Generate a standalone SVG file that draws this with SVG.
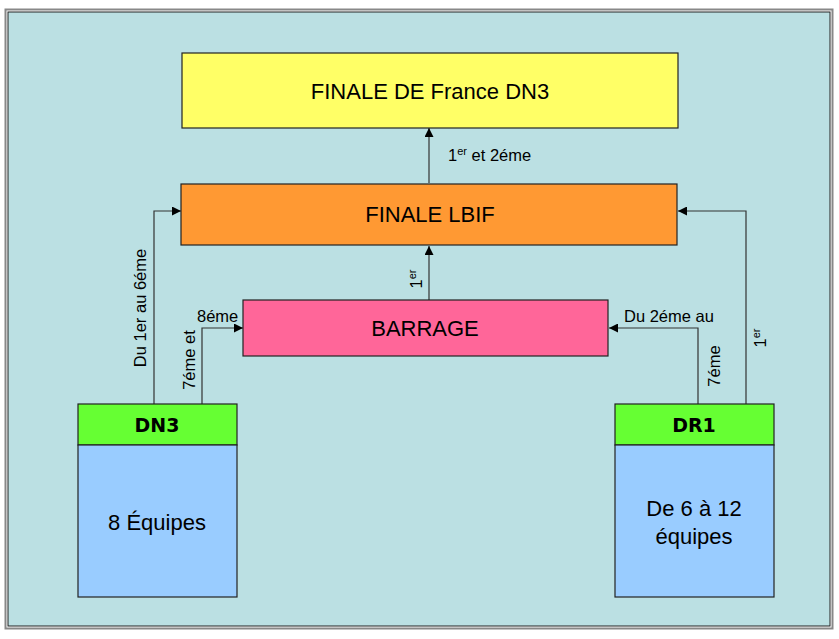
<svg xmlns="http://www.w3.org/2000/svg" width="839" height="639" viewBox="0 0 839 639">
<defs>
<style>
.box{stroke:#222;stroke-width:1.2}
.t{font-family:"Liberation Sans",Arial,sans-serif;font-size:22px;fill:#000;text-anchor:middle}
.h{font-family:"Comic Sans MS","DejaVu Sans",sans-serif;font-weight:bold;font-size:19px;fill:#000;text-anchor:middle}
.l{font-family:"Liberation Sans",Arial,sans-serif;font-size:16.5px;fill:#000}
.c{fill:none;stroke:#333;stroke-width:1.2}
</style>
<marker id="ah" viewBox="0 0 10 10" refX="10" refY="5" markerWidth="9" markerHeight="9" markerUnits="userSpaceOnUse" orient="auto">
<path d="M0,0 L10,5 L0,10 z" fill="#000"/>
</marker>
</defs>
<rect x="0" y="0" width="839" height="639" fill="#fff"/>
<rect x="5.5" y="9.5" width="827" height="619" fill="none" stroke="#888" stroke-width="2"/>
<rect x="8" y="12" width="822" height="614" fill="#BBE0E3" stroke="#222" stroke-width="1"/>

<g id="connectors">
<path class="c" d="M429,183 V128" marker-end="url(#ah)"/>
<path class="c" d="M429,300 V246" marker-end="url(#ah)"/>
<path class="c" d="M154,404 V211 H181" marker-end="url(#ah)"/>
<path class="c" d="M202,404 V328 H243" marker-end="url(#ah)"/>
<path class="c" d="M698,404 V328 H609" marker-end="url(#ah)"/>
<path class="c" d="M746,404 V211 H678" marker-end="url(#ah)"/>
</g>

<g id="labels">
<text class="l" x="448" y="161">1<tspan font-size="11" dy="-6">er</tspan><tspan dy="6"> et 2éme</tspan></text>
<text class="l" transform="translate(422,279) rotate(-90)" text-anchor="middle">1<tspan font-size="11" dy="-6">er</tspan></text>
<text class="l" transform="translate(146,308) rotate(-90)" text-anchor="middle">Du 1er au 6éme</text>
<text class="l" transform="translate(195,360) rotate(-90)" text-anchor="middle">7éme et</text>
<text class="l" x="197" y="322">8éme</text>
<text class="l" x="624" y="322">Du 2éme au</text>
<text class="l" transform="translate(720,366) rotate(-90)" text-anchor="middle">7éme</text>
<text class="l" transform="translate(766,338) rotate(-90)" text-anchor="middle">1<tspan font-size="11" dy="-6">er</tspan></text>
</g>

<g id="finale-france">
<rect class="box" x="182" y="53" width="496" height="75" fill="#FFFF66"/>
<text class="t" x="430" y="99">FINALE DE France DN3</text>
</g>

<g id="finale-lbif">
<rect class="box" x="181" y="184" width="496" height="61" fill="#FF9933"/>
<text class="t" x="430" y="222">FINALE LBIF</text>
</g>

<g id="barrage">
<rect class="box" x="243" y="300" width="365" height="56" fill="#FF6699"/>
<text class="t" x="425" y="336">BARRAGE</text>
</g>

<g id="dn3">
<rect class="box" x="78" y="404" width="159" height="41" fill="#66FF33"/>
<rect class="box" x="78" y="445" width="159" height="152" fill="#99CCFF"/>
<text class="h" x="157" y="432">DN3</text>
<text class="t" x="157" y="530">8 Équipes</text>
</g>

<g id="dr1">
<rect class="box" x="615" y="404" width="159" height="41" fill="#66FF33"/>
<rect class="box" x="615" y="445" width="159" height="152" fill="#99CCFF"/>
<text class="h" x="694" y="432">DR1</text>
<text class="t" x="694" y="516">De 6 à 12</text>
<text class="t" x="694" y="544">équipes</text>
</g>
</svg>
